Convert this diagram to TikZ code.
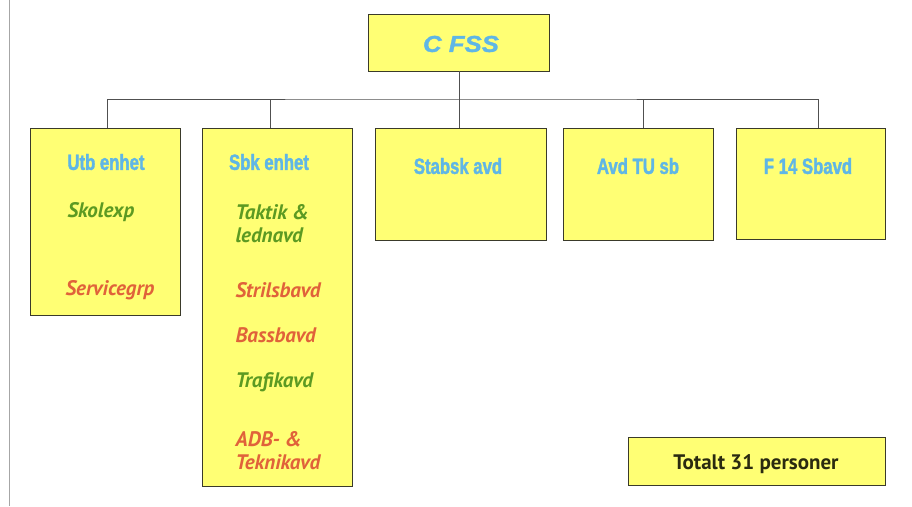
\documentclass[tikz,border=0pt]{standalone}
\usepackage{fontspec}
\setmainfont{PT Sans}
\newfontfamily\condfont[FakeStretch=0.76, FakeBold=1.6]{Liberation Sans Bold}
\newfontfamily\headfont[FakeStretch=1.12, FakeBold=1.4]{Liberation Sans Bold Italic}
\newfontfamily\humfont{PT Sans}
\definecolor{boxyellow}{HTML}{FFFF74}
\definecolor{boxline}{HTML}{3A3A2A}
\definecolor{txtblue}{HTML}{5FB6E6}
\definecolor{txtgreen}{HTML}{5C9A22}
\definecolor{txtred}{HTML}{E0623A}
\definecolor{txtdark}{HTML}{2A2A10}
\definecolor{linegray}{HTML}{505050}
\tikzset{
  unitbox/.style={draw=boxline, line width=1pt, fill=boxyellow},
  conn/.style={draw=linegray, line width=0.9pt},
  bluetxt/.style={text=txtblue, font=\condfont\fontsize{22}{26}\selectfont, anchor=center},
  greentxt/.style={text=txtgreen, font=\humfont\bfseries\itshape\fontsize{21}{23}\selectfont, align=left, anchor=west},
  redtxt/.style={text=txtred, font=\humfont\bfseries\itshape\fontsize{21}{23}\selectfont, align=left, anchor=west},
}
\begin{document}
\begin{tikzpicture}[x=1pt,y=-1pt]
\useasboundingbox (0,0) rectangle (912,506);
% scan edge line
\draw[draw=gray!70, line width=1pt] (9,0) -- (9,506);
% boxes
\draw[unitbox] (368,14) rectangle (549,71);
\coordinate (top) at (459,71);
\node[text=txtblue, font=\headfont\fontsize{23}{26}\selectfont] (cfss) at (461,44) {C FSS};
\draw[unitbox] (30,128) rectangle (180,315);
\draw[unitbox] (202,128) rectangle (352,486);
\draw[unitbox] (375,128) rectangle (546,240);
\draw[unitbox] (563,128) rectangle (713,240);
\draw[unitbox] (736,128) rectangle (885,239);
\draw[unitbox] (628,437) rectangle (885,485);
\coordinate (utbtop) at (107,128);
\coordinate (sbktop) at (270,128);
\coordinate (stabtop) at (459,128);
\coordinate (avdtop) at (643,128);
\coordinate (f14top) at (818,128);
\coordinate (bus) at (459,99);
% connectors
\draw[conn] (top) -- (bus);
\draw[conn] (utbtop) |- (bus) -| (f14top);
\draw[conn] (sbktop) -- (sbktop |- bus);
\draw[conn] (bus) -- (stabtop);
\draw[conn] (avdtop) -- (avdtop |- bus);
% texts
\node[bluetxt] (utb) at (106,162) {Utb enhet};
\node[bluetxt] (sbk) at (269,162) {Sbk enhet};
\node[bluetxt] (stab) at (458,166) {Stabsk avd};
\node[bluetxt] (avd) at (638,166) {Avd TU sb};
\node[bluetxt] (f14) at (808,166) {F 14 Sbavd};
\node[greentxt] (skol) at (64,212) {Skolexp};
\node[redtxt] (serv) at (62,290) {Servicegrp};
\node[greentxt] (takt) at (232,224) {Taktik \&\\lednavd};
\node[redtxt] (stril) at (232,290) {Strilsbavd};
\node[redtxt] (bass) at (232,335) {Bassbavd};
\node[greentxt] (traf) at (232,382) {Trafikavd};
\node[redtxt] (adb) at (232,451) {ADB- \&\\Teknikavd};
\node[text=txtdark, font=\humfont\bfseries\fontsize{21}{24}\selectfont] (tot) at (756,464) {Totalt 31 personer};
\end{tikzpicture}
\end{document}
